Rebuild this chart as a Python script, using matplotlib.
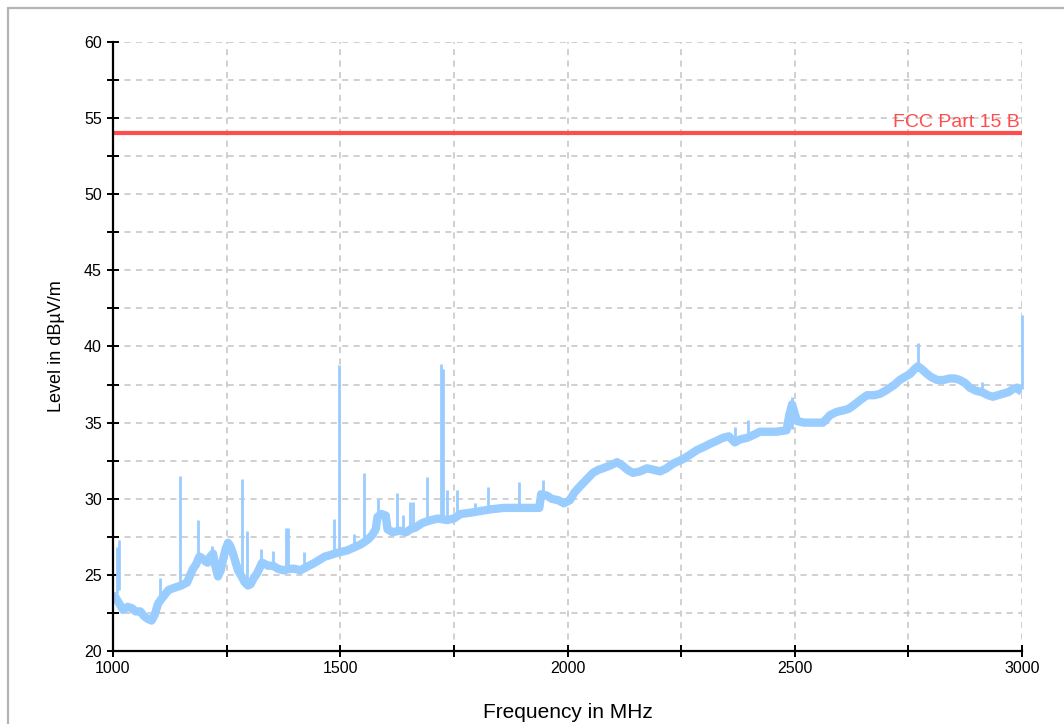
import matplotlib
matplotlib.use('Agg')
import matplotlib.pyplot as plt
from matplotlib.patches import Rectangle
from matplotlib.ticker import MultipleLocator
import numpy as np

# measured trace, MHz / dBuV/m
freq = [1000, 1004, 1016, 1022, 1032, 1042, 1050, 1060, 1068, 1077, 1085, 1092,
        1099, 1106, 1114, 1122, 1130, 1140, 1150, 1163, 1170, 1176, 1183, 1190,
        1196, 1203, 1208, 1214, 1220, 1225, 1231, 1237, 1242, 1248, 1253, 1258,
        1264, 1270, 1275, 1283, 1290, 1297, 1303, 1310, 1317, 1328, 1335, 1341,
        1352, 1363, 1375, 1390, 1400, 1412, 1425, 1444, 1455, 1466, 1478, 1488,
        1500, 1515, 1530, 1545, 1560, 1570, 1578, 1582, 1590, 1600, 1604, 1615,
        1630, 1645, 1655, 1665, 1680, 1700, 1715, 1735, 1750, 1765, 1790, 1810,
        1830, 1860, 1890, 1915, 1938, 1942, 1955, 1965, 1980, 1992, 2005, 2015,
        2027, 2040, 2056, 2068, 2078, 2095, 2109, 2120, 2132, 2144, 2160, 2175,
        2190, 2204, 2218, 2232, 2254, 2270, 2285, 2300, 2313, 2328, 2342, 2355,
        2368, 2380, 2395, 2410, 2423, 2440, 2460, 2482, 2488, 2494, 2498, 2505,
        2520, 2540, 2562, 2578, 2592, 2606, 2618, 2628, 2645, 2659, 2675, 2688,
        2700, 2710, 2720, 2731, 2742, 2754, 2763, 2771, 2780, 2791, 2800, 2813,
        2827, 2841, 2852, 2863, 2875, 2885, 2898, 2912, 2925, 2936, 2947, 2958,
        2970, 2980, 2989, 3000]
level = [23.3, 23.6, 23.0, 22.7, 22.9, 22.8, 22.6, 22.6, 22.3, 22.1, 22.0, 22.4,
         23.1, 23.4, 23.7, 24.0, 24.1, 24.2, 24.3, 24.5, 25.0, 25.4, 25.7, 26.2,
         26.1, 25.9, 25.8, 26.2, 26.4, 25.6, 24.9, 25.3, 26.0, 26.7, 27.1, 26.9,
         26.4, 25.8, 25.3, 24.9, 24.5, 24.3, 24.4, 24.8, 25.1, 25.8, 25.7, 25.6,
         25.6, 25.4, 25.3, 25.4, 25.4, 25.3, 25.5, 25.8, 26.0, 26.2, 26.3, 26.4,
         26.5, 26.6, 26.8, 27.0, 27.3, 27.6, 28.0, 28.8, 29.0, 28.9, 28.0, 27.8,
         27.9, 27.8, 28.0, 28.1, 28.4, 28.6, 28.7, 28.6, 28.7, 29.0, 29.1, 29.2,
         29.3, 29.4, 29.4, 29.4, 29.4, 30.3, 30.2, 30.0, 29.9, 29.7, 29.9, 30.4,
         30.8, 31.2, 31.7, 31.9, 32.0, 32.2, 32.4, 32.2, 31.9, 31.7, 31.8, 32.0,
         31.9, 31.8, 32.0, 32.3, 32.6, 32.9, 33.2, 33.4, 33.6, 33.8, 34.0, 34.1,
         33.7, 33.9, 34.0, 34.2, 34.4, 34.4, 34.4, 34.5, 35.5, 36.2, 35.8, 35.1,
         35.0, 35.0, 35.0, 35.5, 35.7, 35.8, 35.9, 36.1, 36.5, 36.8, 36.8, 36.9,
         37.1, 37.3, 37.5, 37.8, 38.0, 38.2, 38.5, 38.7, 38.5, 38.2, 38.0, 37.8,
         37.8, 37.9, 37.9, 37.8, 37.6, 37.3, 37.1, 37.0, 36.8, 36.7, 36.8, 36.9,
         37.0, 37.2, 37.3, 37.0]

# narrow-band spikes: frequency, floor, peak
spike_f = [1009, 1013, 1103, 1147, 1187, 1218, 1284, 1295, 1326, 1352, 1381, 1385,
           1420, 1486, 1497, 1530, 1552, 1583, 1625, 1638, 1653, 1660, 1691, 1722,
           1726, 1735, 1757, 1796, 1825, 1893, 1946, 2368, 2397, 2493, 2772, 2912,
           2999]
spike_lo = [23.8, 24.0, 23.2, 24.2, 26.0, 26.3, 24.8, 24.4, 25.8, 25.6, 25.4, 25.4,
            25.4, 26.4, 26.5, 26.8, 27.0, 28.5, 27.8, 27.8, 27.8, 27.9, 28.5, 28.6,
            28.6, 28.5, 28.8, 29.1, 29.2, 29.4, 30.3, 33.8, 34.0, 34.6, 38.5, 37.0,
            37.2]
spike_hi = [26.8, 27.3, 24.8, 31.5, 28.6, 26.9, 31.3, 27.9, 26.7, 26.6, 28.1, 28.1,
            26.5, 28.7, 38.8, 27.7, 31.7, 30.0, 30.4, 28.9, 29.8, 29.8, 31.4, 38.85,
            38.5, 30.6, 30.6, 29.7, 30.8, 31.1, 31.2, 34.7, 35.2, 36.7, 40.2, 37.7,
            42.1]

limit_level = 54.0
limit_name = 'FCC Part 15 B'

trace_col = '#99CCFF'
limit_col = '#FF4D4D'

plt.rcParams['font.family'] = ['Liberation Sans', 'DejaVu Sans']

fig = plt.figure(figsize=(10.64, 7.24), dpi=100)
fig.patches.append(Rectangle((8/1064, -0.2), 1.1, 1.2 - 8/724, transform=fig.transFigure,
                             fill=False, edgecolor='#B4B4B4', linewidth=1.6))
ax = fig.add_axes([113/1064, 1 - 651/724, 909/1064, 609/724])

ax.plot(freq, level, color=trace_col, linewidth=6, solid_joinstyle='round',
        solid_capstyle='butt', zorder=3)
ax.vlines(spike_f, spike_lo, spike_hi, color=trace_col, linewidth=2.0, zorder=3,
          clip_on=False)

ax.axhline(limit_level, color=limit_col, linewidth=3, zorder=4)
ax.text(2995, limit_level + 0.15, limit_name, color=limit_col, fontsize=14,
        ha='right', va='bottom', zorder=5)

ax.set_xlim(1000, 3000)
ax.set_ylim(20, 60)
ax.xaxis.set_major_locator(MultipleLocator(500))
ax.xaxis.set_minor_locator(MultipleLocator(250))
ax.yaxis.set_major_locator(MultipleLocator(5))
ax.yaxis.set_minor_locator(MultipleLocator(2.5))

ax.grid(True, which='both', color='#C4C4C4', linestyle=(0, (4, 3.5)), linewidth=1.1, zorder=1)
ax.set_axisbelow(True)

for s in ['top', 'right']:
    ax.spines[s].set_visible(False)
for s in ['left', 'bottom']:
    ax.spines[s].set_linewidth(1.6)
    ax.spines[s].set_color('black')
    ax.spines[s].set_zorder(6)

ax.tick_params(which='both', direction='inout', length=8, width=1.4, color='black')
ax.tick_params(axis='x', labelsize=11.5, pad=3)
ax.tick_params(axis='y', labelsize=11.5, pad=4)

ax.set_xlabel('Frequency in MHz', fontsize=15, labelpad=20)
ax.set_ylabel('Level in dBµV/m', fontsize=13, labelpad=14)

fig.savefig('out.png', dpi=100)
